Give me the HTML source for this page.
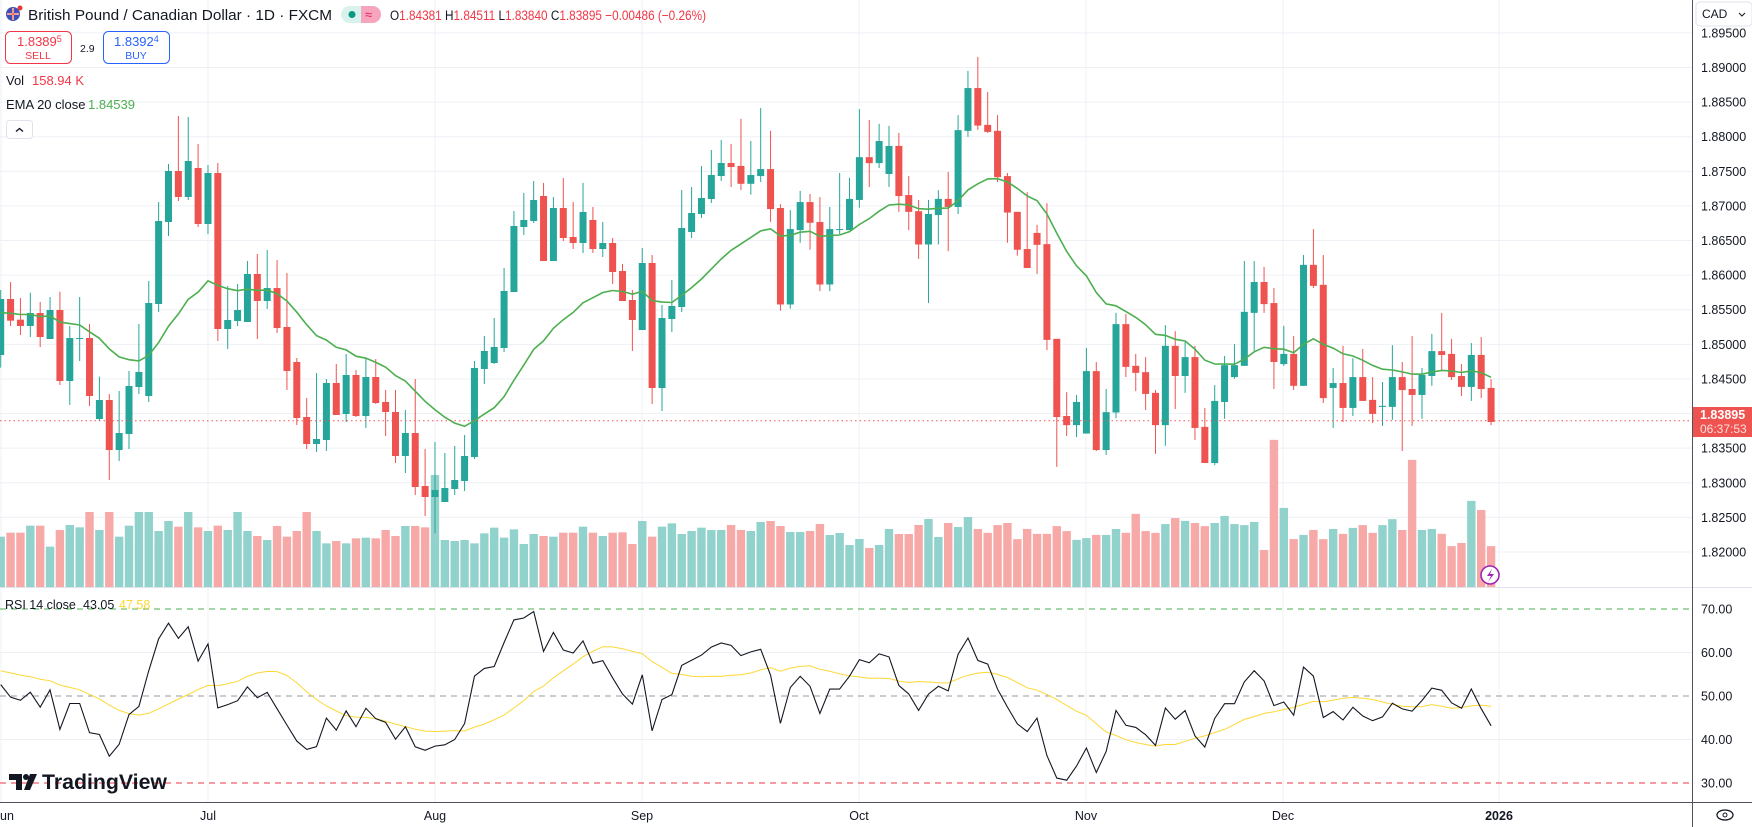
<!DOCTYPE html>
<html><head><meta charset="utf-8">
<style>
html,body{margin:0;padding:0;background:#fff;}
svg{display:block;font-family:"Liberation Sans",sans-serif;}
</style></head>
<body>
<svg id="s" width="1752" height="827" xmlns="http://www.w3.org/2000/svg"></svg>
<script>
const S=document.getElementById('s');
let h='';
const X=i=>0.7+9.87*i;
const YP=p=>67.5+(1.89-p)*6921;
const YR=v=>696-(v-50)*4.35;
const G='#26a69a',R='#ef5350';
for(let k=0;k<=15;k++){const p=1.895-k*0.005;const y=YP(p);h+=`<line x1="0" x2="1692" y1="${y}" y2="${y}" stroke="#edf0f5" stroke-width="1"/>`;}
const vg=[1,208,435,642,859,1086,1283,1499];
vg.forEach(x=>{h+=`<line x1="${x}" x2="${x}" y1="0" y2="802" stroke="#edf0f5" stroke-width="1"/>`;});
[60,40].forEach(v=>{h+=`<line x1="0" x2="1692" y1="${YR(v)}" y2="${YR(v)}" stroke="#edf0f5"/>`;});
h+=`<line x1="0" x2="1692" y1="${YR(70)}" y2="${YR(70)}" stroke="#4caf50" stroke-dasharray="6,5"/>`;
h+=`<line x1="0" x2="1692" y1="${YR(50)}" y2="${YR(50)}" stroke="#9598a1" stroke-dasharray="6,5"/>`;
h+=`<line x1="0" x2="1692" y1="${YR(30)}" y2="${YR(30)}" stroke="#f23645" stroke-dasharray="6,5"/>`;
const secs=[
[90,3,[['G',627,795,600,833],['R',627,692,576,708],['R',689,708,624,735],['G',669,708,608,741],['R',669,741,636,771],['G',660,747,621,747],['R',660,873,605,885],['G',744,873,708,945],['G',744,746,621,813],['R',744,918,702,948],['G',930,987,860,993],['R',930,1080,912,1170],['G',1029,1080,903,1113],['G',888,1032,843,1077],['G',846,891,702,912],['G',639,918,573,936],['G',393,642,336,666],['G',243,396,222,438],['R',243,321,78,333],['G',213,321,81,330],['R',234,402,162,411],['G',249,402,225,432],['R',249,717,219,753],['G',690,717,588,777],['G',660,693,582,708],['G',552,696,513,696],['R',552,633,492,747]]],
[90,3,[['G',594,633,480,657],['R',594,714,510,729],['R',711,843,549,900],['R',816,984,804,1005],['R',981,1062,924,1077],['G',1047,1062,849,1086],['G',879,1050,867,1083],['R',879,975,822,975],['G',855,972,792,996],['R',855,978,840,981],['G',861,978,804,1014],['R',861,939,807,942],['R',936,966,900,1038],['R',966,1098,900,1119],['G',1029,1098,960,1149],['R',1029,1191,867,1215],['R',1188,1221,1077,1278],['G',1200,1221,1056,1330],['G',1194,1236,1089,1236],['G',1170,1197,1068,1215],['G',1098,1173,1035,1203],['G',834,1101,813,1107],['G',783,837,738,882],['G',771,819,684,822],['G',603,774,534,786]]],
[60,3,[['G',498,696,453,696],['G',480,501,399,525],['G',420,483,363,489],['R',408,603,369,603],['G',444,603,411,603],['R',444,534,354,543],['R',531,549,426,567],['G',456,549,369,579],['R',480,567,441,579],['G',549,567,486,591],['R',549,636,534,672],['R',633,723,612,723],['R',720,780,690,873],['G',609,810,564,810],['R',609,984,585,1032],['G',774,984,735,1053],['G',738,777,660,816],['G',504,741,390,756],['G',459,516,381,534],['G',414,462,318,474],['G',345,417,270,429],['G',309,348,240,363],['R',309,321,252,381]]],
[40,2.851,[['R',359,410,225,428],['G',385,410,288,441],['G',368,388,194,405],['R',368,482,259,519],['R',479,754,468,772],['G',539,754,485,766],['G',462,542,430,578],['R',462,521,439,598],['R',519,697,448,716],['G',539,697,476,716],['G',539,541,379,553],['G',453,542,393,542],['G',334,456,197,478],['R',334,351,228,419],['G',288,351,239,365],['G',302,382,245,419],['R',302,445,265,490],['R',442,490,388,542],['R',488,583,456,624],['G',496,583,456,750],['G',453,499,428,583],['R',453,476,376,602],['G',257,476,214,496],['G',137,259,88,276],['R',137,244,48,256]]],
[40,2.851,[['R',242,262,148,265],['R',259,391,214,405],['R',388,492,379,578],['R',490,598,490,615],['R',596,650,434,650],['R',550,584,527,667],['R',582,855,465,884],['R',852,1075,852,1217],['R',1072,1098,1004,1129],['G',1032,1098,1012,1132],['G',944,1122,878,1122],['R',944,1169,918,1172],['G',1061,1169,995,1183],['G',810,1062,778,1078],['R',810,932,781,961],['R',929,949,895,1001],['R',947,1009,904,1055],['R',1006,1098,998,1180],['G',872,1098,813,1157],['R',872,958,830,1052],['G',904,958,861,1006],['R',904,1106,872,1140],['R',1103,1206,1049,1206],['G',1029,1206,984,1212]]],
[40,2.851,[['G',927,1032,901,1080],['G',927,961,867,966],['G',775,929,630,929],['G',690,778,630,886],['R',690,753,647,778],['R',750,918,707,995],['G',895,924,815,929],['R',895,986,844,998],['G',641,986,613,986],['R',641,701,539,707],['R',698,1021,613,1035],['G',978,992,935,1106],['R',978,1049,872,1089],['G',961,1049,907,1072],['R',961,1029,881,1029],['R',1026,1066,961,1092],['G',1043,1046,975,1100],['G',961,1046,870,1083],['R',961,998,918,1172],['R',995,1012,844,1100],['G',955,1012,935,1080],['G',887,958,838,986],['R',887,898,778,941],['R',895,961,852,969],['R',958,989,924,1015],['G',898,989,864,1029],['R',898,995,847,1021],['R',992,1089,967,1098]]]
];
const C=[];
secs.forEach(([b,d,arr])=>arr.forEach(a=>C.push({g:a[0]=='G',t:b+a[1]/d,bo:b+a[2]/d,hi:b+a[3]/d,lo:b+a[4]/d})));
const v5=[50,38,38,17,17,80,30,15,22,0,30,0,50,17,0,0,33,3,20,0,22,33,17,30,0,33,48,60,18,50,33,0,33,70,63,70,55,53,55,30,48,18,18,22,0,60,63,60,70,40,23,53,28,72,42,48,50,38,38,20,38,48,38,37,72,3,50,20,10,42,33,23,30,30,15];
const VT=[];
v5.forEach((v,i)=>VT.push(v==0?(i==44?475:512):520+v/3));
[530,531,522,521,526,532,532,531,524,535,533,545,539,548,545,529,534,534,525,519,537,523,527,517,529].forEach(v=>VT.push(v));
[1405,1383,1377,1423,1394,1408,1408,1386,1400,1425,1420,1411,1411,1394,1405,1351,1400,1405,1380,1363,1371,1377,1386,1377,1357,1380,1383,1374,1454,1140,1334,1423,1411,1397,1423,1394,1408,1391,1383,1405,1383,1366,1397,1197,1397,1394,1408,1443,1434,1314,1340,1443].forEach(v=>VT.push(40+v/2.851));
for(let i=0;i<C.length;i++){const t=VT[i]||530;const x=X(i);h+=`<rect x="${x-4.2}" y="${t}" width="8.4" height="${587-t}" fill="${C[i].g?'#92d2cc':'#f7a9a7'}"/>`;}
C.forEach((c,i)=>{const x=X(i),col=c.g?G:R;h+=`<line x1="${x}" x2="${x}" y1="${c.hi}" y2="${c.lo}" stroke="${col}" stroke-width="1"/>`;h+=`<rect x="${x-3.5}" y="${c.t}" width="7" height="${Math.max(1,c.bo-c.t)}" fill="${col}"/>`;});
let e=314,k=2/21,pts=[];
C.forEach((c,i)=>{const cl=c.g?c.t:c.bo;e=cl*k+e*(1-k);pts.push(X(i).toFixed(1)+','+e.toFixed(1));});
h+=`<polyline points="${pts.join(' ')}" fill="none" stroke="#4caf50" stroke-width="1.6"/>`;
let ag=15,al=13.5,prev=null,hist=[];for(let j=0;j<13;j++)hist.push(56);
const rp=[],mp=[];
C.forEach((c,i)=>{const cl=c.g?c.t:c.bo;if(prev!==null){const d=prev-cl;ag=(ag*13+Math.max(d,0))/14;al=(al*13+Math.max(-d,0))/14;}prev=cl;const r=100-100/(1+ag/al);hist.push(r);const m=hist.slice(-14).reduce((a,b)=>a+b,0)/14;rp.push(X(i).toFixed(1)+','+YR(r).toFixed(1));mp.push(X(i).toFixed(1)+','+YR(m).toFixed(1));});
h+=`<polyline points="${mp.join(' ')}" fill="none" stroke="#fdd835" stroke-width="1"/>`;
h+=`<polyline points="${rp.join(' ')}" fill="none" stroke="#131722" stroke-width="1.1"/>`;
h+=`<line x1="0" x2="1692" y1="420.8" y2="420.8" stroke="#ef5350" stroke-dasharray="1.5,3"/>`;
h+=`<line x1="0" x2="1752" y1="587.5" y2="587.5" stroke="#e0e3eb"/>`;
h+=`<line x1="0" x2="1752" y1="802.5" y2="802.5" stroke="#50535e"/>`;
h+=`<line x1="1692.5" x2="1692.5" y1="0" y2="827" stroke="#50535e"/>`;
for(let k=0;k<=15;k++){const p=1.895-k*0.005;const y=YP(p);h+=`<text x="1701" y="${y+4.5}" font-size="12.5" fill="#131722">${p.toFixed(5)}</text>`;}
[70,60,50,40,30].forEach(v=>{h+=`<text x="1701" y="${YR(v)+4.5}" font-size="12.5" fill="#131722">${v.toFixed(2)}</text>`;});
h+=`<rect x="1693" y="407" width="59" height="30" fill="#ef5350"/><text x="1700" y="419" font-size="12.5" fill="#fff" font-weight="bold">1.83895</text><text x="1700" y="433" font-size="12" fill="#fde0df">06:37:53</text>`;
h+=`<rect x="1696" y="2" width="56" height="24" rx="4" fill="#fff" stroke="#e0e3eb"/><text x="1702" y="18" font-size="12" fill="#131722">CAD</text><path d="M1739 13 l3 3 l3 -3" fill="none" stroke="#131722"/>`;
[['un',3],['Jul',208],['Aug',435],['Sep',642],['Oct',859],['Nov',1086],['Dec',1283]].forEach(([t,x])=>{h+=`<text x="${t=='un'?0:x}" y="820" font-size="12.5" fill="#131722" text-anchor="${t=='un'?'start':'middle'}">${t}</text>`;});
h+=`<text x="1499" y="820" font-size="12.5" fill="#131722" font-weight="bold" text-anchor="middle">2026</text>`;
h+=`<ellipse cx="1725" cy="815" rx="8" ry="5" fill="none" stroke="#131722" stroke-width="1.3"/><circle cx="1725" cy="815" r="2" fill="none" stroke="#131722"/>`;
h+=`<circle cx="1490" cy="575" r="9" fill="#fff" stroke="#9c27b0" stroke-width="1.6"/><path d="M1492 569 l-5 7 h4 l-3 6 l6 -8 h-4 z" fill="#9c27b0"/>`;
h+=`<circle cx="13" cy="14" r="7" fill="#3f51b5"/><path d="M7 14 h12 M13 8 v12" stroke="#fff" stroke-width="2"/><path d="M7 14 h12 M13 8 v12" stroke="#e53935" stroke-width="1"/><circle cx="20" cy="8" r="2.5" fill="#e53935"/>`;
h+=`<text x="28" y="20" font-size="15" fill="#131722" textLength="304" lengthAdjust="spacingAndGlyphs">British Pound / Canadian Dollar · 1D · FXCM</text>`;
h+=`<rect x="341" y="6" width="40" height="17" rx="8.5" fill="#d9f2ee"/><path d="M361 6 h11.5 a8.5 8.5 0 0 1 0 17 h-11.5 z" fill="#f7a4bd"/><circle cx="352" cy="14.5" r="3.5" fill="#089981"/><text x="365" y="19" font-size="13" fill="#e91e63">≈</text>`;
h+=`<text x="390" y="20" font-size="13.5" textLength="316" lengthAdjust="spacingAndGlyphs"><tspan fill="#131722">O</tspan><tspan fill="#f23645">1.84381 </tspan><tspan fill="#131722">H</tspan><tspan fill="#f23645">1.84511 </tspan><tspan fill="#131722">L</tspan><tspan fill="#f23645">1.83840 </tspan><tspan fill="#131722">C</tspan><tspan fill="#f23645">1.83895 −0.00486 (−0.26%)</tspan></text>`;
h+=`<rect x="5.5" y="31.5" width="66" height="32" rx="5" fill="#fff" stroke="#f23645"/><text x="17" y="46" font-size="13" fill="#f23645">1.8389<tspan font-size="9" dy="-4">5</tspan></text><text x="38" y="59" font-size="10.5" fill="#f23645" text-anchor="middle">SELL</text>`;
h+=`<text x="80" y="52" font-size="10.5" fill="#131722">2.9</text>`;
h+=`<rect x="103.5" y="31.5" width="66" height="32" rx="5" fill="#fff" stroke="#2962ff"/><text x="114" y="46" font-size="13" fill="#2962ff">1.8392<tspan font-size="9" dy="-4">4</tspan></text><text x="136" y="59" font-size="10.5" fill="#2962ff" text-anchor="middle">BUY</text>`;
h+=`<text x="6" y="85" font-size="13" fill="#131722">Vol</text><text x="32" y="85" font-size="13" fill="#f23645">158.94 K</text>`;
h+=`<text x="6" y="109" font-size="13" fill="#131722">EMA 20 close</text><text x="88" y="109" font-size="13" fill="#4caf50">1.84539</text>`;
h+=`<rect x="6.5" y="120.5" width="26" height="18" rx="3" fill="#fff" stroke="#e0e3eb"/><path d="M16 131.5 l3.5 -3 l3.5 3" fill="none" stroke="#131722" stroke-width="1.4"/>`;
h+=`<text x="5" y="609" font-size="12.5" fill="#131722">RSI 14 close</text><text x="83" y="609" font-size="12.5" fill="#131722">43.05</text><text x="119" y="609" font-size="12.5" fill="#fdd835">47.58</text>`;
h+=`<path d="M9 774 h13 v16 h-6 v-10 h-7 z" fill="#131722"/><circle cx="26" cy="777" r="3" fill="#131722"/><path d="M30 774 h7 l-7 16 h-6 z" fill="#131722"/>`;
h+=`<text x="42" y="789" font-size="21" font-weight="bold" fill="#131722" textLength="125" lengthAdjust="spacingAndGlyphs">TradingView</text>`;
S.innerHTML=h;
</script>
</body></html>
